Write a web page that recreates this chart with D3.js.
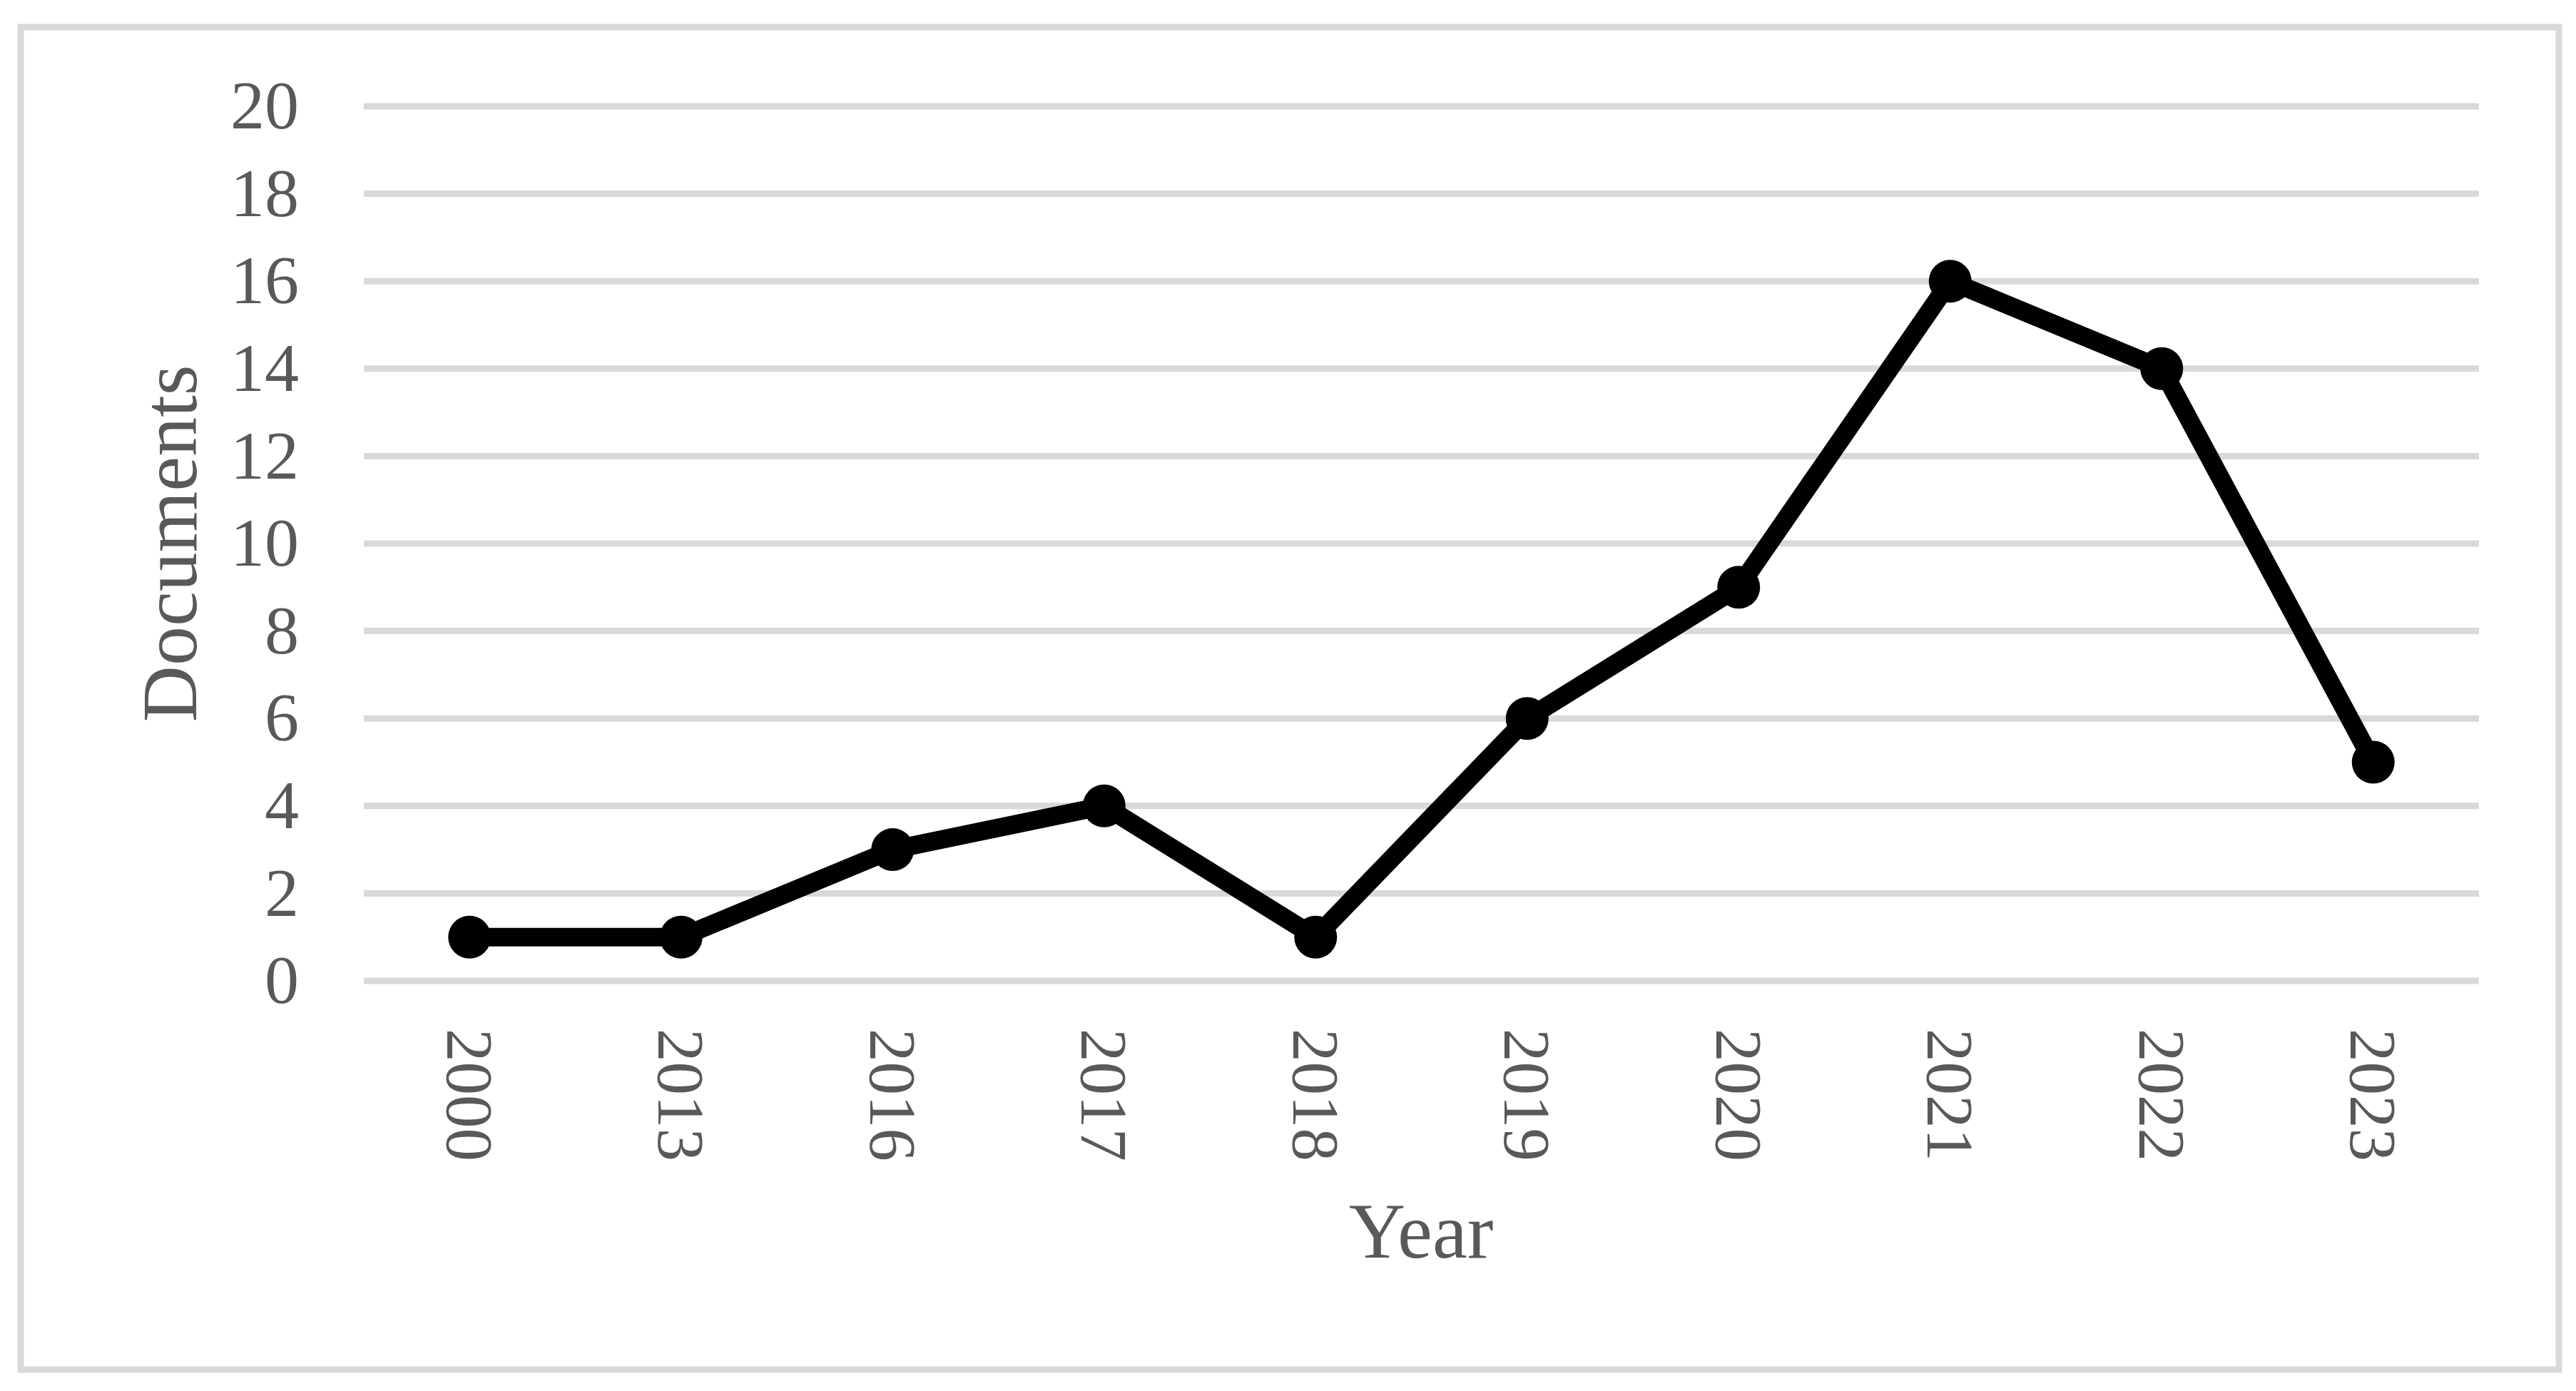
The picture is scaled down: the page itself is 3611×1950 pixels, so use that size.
<!DOCTYPE html>
<html>
<head>
<meta charset="utf-8">
<script src="https://cdn.jsdelivr.net/npm/d3@7"></script>
<style>
    body { margin: 0; background: white; }
    svg { display: block; }
    .tick-label { font-family: "Liberation Serif", serif; fill: #595959; }
    .title { font-family: "Liberation Serif", serif; fill: #595959; }
</style>
</head>
<body>
<div id="chart"></div>
<script>
// data
var years = ["2000", "2013", "2016", "2017", "2018", "2019", "2020", "2021", "2022", "2023"]
var documents = [1, 1, 3, 4, 1, 6, 9, 16, 14, 5]
var yTicks = [0, 2, 4, 6, 8, 10, 12, 14, 16, 18, 20]

var width = 3611,
    height = 1950

var svg = d3.select("#chart").append("svg")
    .attr("width", width)
    .attr("height", height)

// outer frame
svg.append("rect")
    .attr("x", 29)
    .attr("y", 38)
    .attr("width", 3587 - 29)
    .attr("height", 1920 - 38)
    .attr("fill", "white")
    .attr("stroke", "#d9d9d9")
    .attr("stroke-width", 9)

var x = d3.scaleBand()
    .domain(years)
    .range([510, 3475])
    .padding(0)

var y = d3.scaleLinear()
    .domain([0, 20])
    .range([1375, 149])

// gridlines
svg.append("g")
    .selectAll("line")
    .data(yTicks)
    .enter()
    .append("line")
    .attr("x1", 510)
    .attr("x2", 3475)
    .attr("y1", d => y(d))
    .attr("y2", d => y(d))
    .attr("stroke", "#d9d9d9")
    .attr("stroke-width", 9)

// y axis labels
var yAxis = d3.axisLeft(y).tickValues(yTicks).tickSize(0).tickPadding(0)
var gy = svg.append("g")
    .attr("transform", "translate(419,0)")
    .call(yAxis)
gy.select(".domain").remove()
gy.selectAll("text")
    .attr("class", "tick-label")
    .attr("font-size", 96)
    .attr("dy", "0.32em")
    .attr("fill", "#595959")

// x axis labels, turned to read downwards
var xAxis = d3.axisBottom(x).tickSize(0).tickPadding(0)
var gx = svg.append("g")
    .attr("transform", "translate(0,1442)")
    .call(xAxis)
gx.select(".domain").remove()
gx.selectAll("text")
    .attr("class", "tick-label")
    .attr("font-size", 93)
    .attr("fill", "#595959")
    .attr("y", 0)
    .attr("dy", "0.34em")
    .attr("transform", "rotate(90)")
    .style("text-anchor", "start")

// line
var line = d3.line()
    .x((d, i) => x(years[i]) + x.bandwidth() / 2)
    .y(d => y(d))

svg.append("path")
    .datum(documents)
    .attr("d", line)
    .attr("fill", "none")
    .attr("stroke", "black")
    .attr("stroke-width", 26)
    .attr("stroke-linejoin", "round")

svg.append("g")
    .selectAll("circle")
    .data(documents)
    .enter()
    .append("circle")
    .attr("cx", (d, i) => x(years[i]) + x.bandwidth() / 2)
    .attr("cy", d => y(d))
    .attr("r", 30)
    .attr("fill", "black")

// axis titles
svg.append("text")
    .attr("class", "title")
    .attr("font-size", 110)
    .attr("text-anchor", "middle")
    .attr("transform", "translate(275,762) rotate(-90)")
    .text("Documents")

svg.append("text")
    .attr("class", "title")
    .attr("font-size", 110)
    .attr("text-anchor", "middle")
    .attr("x", 1992)
    .attr("y", 1763)
    .text("Year")
</script>
</body>
</html>
